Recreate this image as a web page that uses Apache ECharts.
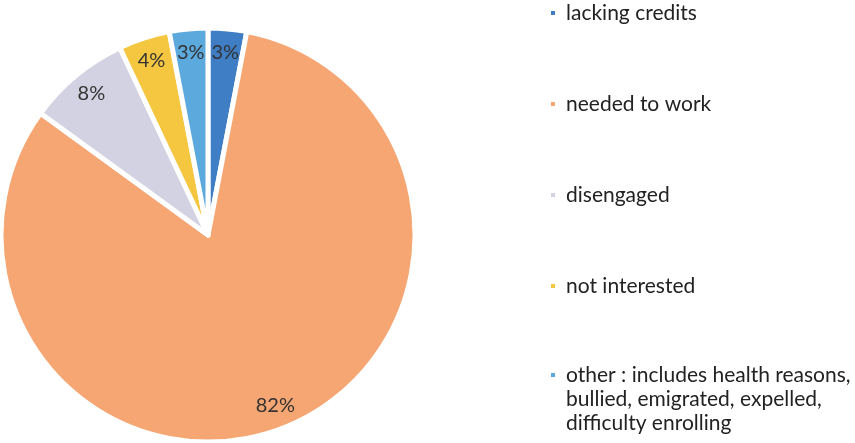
<!DOCTYPE html>
<html>
<head>
<meta charset="utf-8">
<script src="https://cdn.jsdelivr.net/npm/echarts@6/dist/echarts.min.js"></script>
<style>
  html, body { margin: 0; padding: 0; background: #ffffff; }
  #chart { width: 855px; height: 443px; }
</style>
</head>
<body>
<div id="chart"></div>
<script>
// Reasons for leaving school (share of respondents, %)
const categories = [
  'lacking credits',
  'needed to work',
  'disengaged',
  'not interested',
  'other : includes health reasons,\nbullied, emigrated, expelled,\ndifficulty enrolling'
];
const values = [3, 82, 8, 4, 3];
const colors = ['#3f7dc4', '#f5a672', '#d3d2e3', '#f5c640', '#5ca9de'];

const FONT = 'Lato, "Open Sans", sans-serif';

const pieData = categories.map((name, i) => ({
  name: name,
  value: values[i],
  itemStyle: { color: colors[i] }
}));

const labelData = categories.map((name, i) => ({ name: name, value: values[i] }));

const legendText = {
  fontFamily: FONT,
  fontSize: 21,
  color: '#222222',
  padding: [0, 0, 0, 5]
};

const chart = echarts.init(document.getElementById('chart'), null, { renderer: 'canvas' });

chart.setOption({
  animation: false,
  backgroundColor: '#ffffff',
  legend: [
    {
      data: categories.slice(0, 4),
      orient: 'vertical',
      left: 544,
      top: -3,
      itemWidth: 6,
      itemHeight: 6,
      itemGap: 69,
      icon: 'rect',
      selectedMode: false,
      textStyle: Object.assign({ lineHeight: 22 }, legendText)
    },
    {
      // multi-line entry: two leading blank lines keep the marker beside the first line
      data: [categories[4]],
      formatter: name => '\n\n' + name,
      orient: 'vertical',
      left: 544,
      top: 310,
      itemWidth: 6,
      itemHeight: 6,
      icon: 'rect',
      selectedMode: false,
      textStyle: Object.assign({ lineHeight: 24 }, legendText)
    }
  ],
  series: [
    {
      // slices
      type: 'pie',
      center: [208, 235],
      radius: [0, 207],
      startAngle: 90,
      clockwise: true,
      silent: true,
      label: { show: false },
      labelLine: { show: false },
      itemStyle: { borderColor: '#ffffff', borderWidth: 5 },
      data: pieData
    },
    {
      // percentage labels placed near the rim
      type: 'pie',
      center: [208, 235],
      radius: [155, 205],
      startAngle: 90,
      clockwise: true,
      silent: true,
      legendHoverLink: false,
      itemStyle: { color: 'rgba(0,0,0,0)', borderWidth: 0 },
      label: {
        show: true,
        position: 'inside',
        formatter: '{d}%',
        fontFamily: FONT,
        fontSize: 20,
        color: '#333333'
      },
      labelLine: { show: false },
      data: labelData
    }
  ]
});
</script>
</body>
</html>
